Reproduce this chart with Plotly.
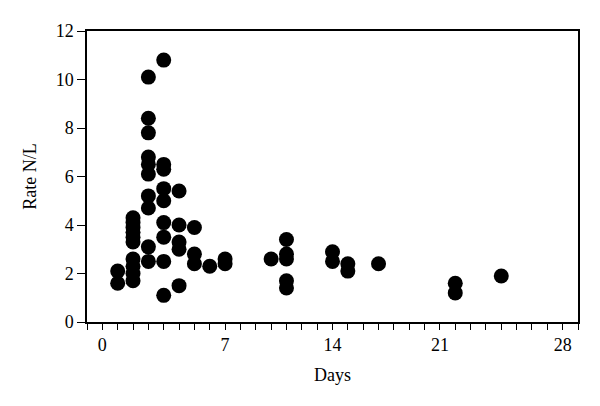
import plotly.graph_objects as go

# Position of each point along the x axis (axis units, one per minor tick)
day_pos = [1, 1,
           2, 2, 2, 2, 2, 2, 2, 2, 2, 2,
           3, 3, 3, 3, 3, 3, 3, 3, 3, 3,
           4, 4, 4, 4, 4, 4, 4, 4, 4,
           5, 5, 5, 5, 5,
           6, 6, 6,
           7,
           8, 8,
           11,
           12, 12, 12, 12, 12,
           15, 15,
           16, 16,
           18,
           23, 23,
           26]
rate_nl = [2.1, 1.6,
           4.3, 4.1, 3.9, 3.7, 3.5, 3.3, 2.6, 2.3, 2.0, 1.7,
           10.1, 8.4, 7.8, 6.8, 6.5, 6.1, 5.2, 4.7, 3.1, 2.5,
           10.8, 6.5, 6.3, 5.5, 5.0, 4.1, 3.5, 2.5, 1.1,
           5.4, 4.0, 3.3, 3.0, 1.5,
           3.9, 2.8, 2.4,
           2.3,
           2.6, 2.4,
           2.6,
           3.4, 2.8, 2.6, 1.7, 1.4,
           2.9, 2.5,
           2.4, 2.1,
           2.4,
           1.6, 1.2,
           1.9]

x_tick_pos = list(range(-1, 32))
x_label_pos = [0, 8, 15, 22, 30]
x_label_text = ["0", "7", "14", "21", "28"]
x_tick_text = [x_label_text[x_label_pos.index(p)] if p in x_label_pos else "" for p in x_tick_pos]

y_ticks = [0, 2, 4, 6, 8, 10, 12]

font_family = "Liberation Serif"

fig = go.Figure()
fig.add_trace(go.Scatter(
    x=day_pos, y=rate_nl, mode="markers",
    marker=dict(color="black", size=15, line=dict(width=0)),
    showlegend=False, cliponaxis=False,
))

fig.update_layout(
    width=592, height=398,
    margin=dict(l=79, r=22, t=23, b=84),
    paper_bgcolor="white", plot_bgcolor="white",
    font=dict(family=font_family, size=18, color="black"),
)
fig.update_xaxes(
    range=[-1, 31], tickmode="array", tickvals=x_tick_pos, ticktext=x_tick_text,
    ticks="outside", ticklen=6, tickwidth=1.3, tickcolor="black",
    showline=True, linecolor="black", linewidth=1.5, mirror=True,
    showgrid=False, zeroline=False,
    title=dict(text="Days", font=dict(size=18), standoff=14),
    tickfont=dict(size=18),
)
fig.update_yaxes(
    range=[0, 12], tickmode="array", tickvals=y_ticks,
    ticks="outside", ticklen=8, tickwidth=1.3, tickcolor="black",
    showline=True, linecolor="black", linewidth=1.5, mirror=True,
    showgrid=False, zeroline=False,
    title=dict(text="Rate N/L", font=dict(size=18), standoff=14),
    tickfont=dict(size=18),
)

fig.write_html("out.html")
